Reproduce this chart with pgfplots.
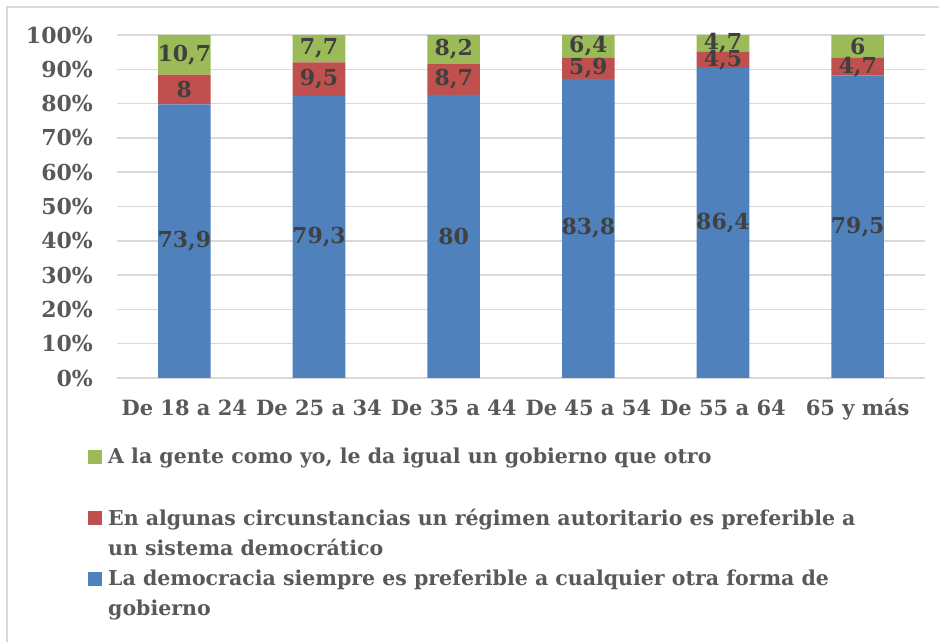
\documentclass[border=0pt]{standalone}
\usepackage{pgfplots}
\pgfplotsset{compat=1.18}
\usepackage{pgfplotstable}
\usepackage{fontspec}
\setmainfont{DejaVu Serif}
\definecolor{cblue}{HTML}{4F81BD}
\definecolor{cred}{HTML}{C0504D}
\definecolor{cgreen}{HTML}{9BBB59}
\definecolor{ctxt}{HTML}{595959}
\definecolor{clab}{HTML}{404040}
\definecolor{cgrid}{HTML}{D9D9D9}

\pgfplotstableread{
x a b c
0 73.9 8 10.7
1 79.3 9.5 7.7
2 80 8.7 8.2
3 83.8 5.9 6.4
4 86.4 4.5 4.7
5 79.5 4.7 6
}\datatable

\pgfkeys{/pgf/number format/.cd, use comma, fixed, 1000 sep={}, assume math mode=true}

\pgfplotsset{
  mystack/.style={fill=#1, draw=none, point meta=explicit,
    nodes near coords={\pgfmathprintnumber{\pgfplotspointmeta}},
    every node near coord/.append style={font=\fontsize{22pt}{26pt}\selectfont\bfseries, text=clab, anchor=center, inner sep=0pt},
    legend image code/.code={\fill[fill=#1,draw=none] (0pt,0pt) rectangle (14pt,14pt);}
  }
}

\begin{document}
\begin{tikzpicture}
\useasboundingbox (0,0) rectangle (939pt,642pt);
\draw[cgrid, line width=1.5pt] (7pt,-5pt) -- (7pt,635pt) -- (945pt,635pt);
\begin{axis}[
  at={(117pt,264pt)}, anchor=south west,
  scale only axis, width=808pt, height=343pt,
  xmin=-0.5, xmax=5.5, ymin=0, ymax=100,
  ybar stacked, bar width=0.39,
  ytick={0,10,...,100},
  yticklabel={\pgfmathprintnumber{\tick}\%},
  xtick={0,...,5},
  xticklabels={De 18 a 24, De 25 a 34, De 35 a 44, De 45 a 54, De 55 a 64, 65 y más},
  ymajorgrids, grid style={cgrid, line width=1.5pt},
  axis line style={draw=none}, major tick length=0pt, tick style={draw=none},
  yticklabel style={font=\fontsize{22pt}{26pt}\selectfont\bfseries, text=ctxt, inner sep=0pt, anchor=east, xshift=-24pt},
  xticklabel style={font=\fontsize{21pt}{26pt}\selectfont\bfseries, text=ctxt, inner sep=0pt, anchor=north, text height=16pt, text depth=4pt, yshift=-21pt},
  clip=false,
  reverse legend,
  legend style={draw=none, fill=none, inner sep=0pt, at={(-0.0359,-0.204)}, anchor=north west,
    font=\fontsize{20.5pt}{30pt}\selectfont\bfseries, text=ctxt,
    nodes={inner sep=0pt, text depth=}, cells={anchor=base west},
    row sep=10pt, column sep=6pt},
]
\addplot[mystack=cblue]
  table[x=x, y expr={\thisrow{a}/(\thisrow{a}+\thisrow{b}+\thisrow{c})*100}, meta=a]{\datatable};
\addlegendentry{\parbox[t]{820pt}{\rule{0pt}{15pt}La democracia siempre es preferible a cualquier otra forma de\\gobierno\rule[-5pt]{0pt}{5pt}}}
\addplot[mystack=cred]
  table[x=x, y expr={\thisrow{b}/(\thisrow{a}+\thisrow{b}+\thisrow{c})*100}, meta=b]{\datatable};
\addlegendentry{\parbox[t]{820pt}{\rule{0pt}{15pt}En algunas circunstancias un régimen autoritario es preferible a\\un sistema democrático\rule[-5pt]{0pt}{5pt}}}
\addplot[mystack=cgreen]
  table[x=x, y expr={\thisrow{c}/(\thisrow{a}+\thisrow{b}+\thisrow{c})*100}, meta=c]{\datatable};
\addlegendentry{\parbox[t]{820pt}{\rule{0pt}{15pt}A la gente como yo, le da igual un gobierno que otro\\\rule[-5pt]{0pt}{5pt}}}
\end{axis}
\end{tikzpicture}
\end{document}
